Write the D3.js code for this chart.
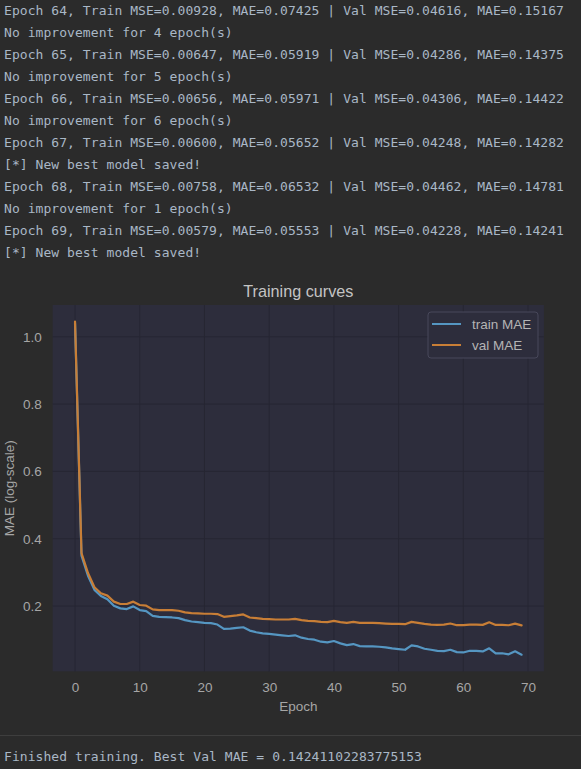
<!DOCTYPE html>
<html>
<head>
<meta charset="utf-8">
<script src="https://cdn.jsdelivr.net/npm/d3@7"></script>
<style>
  html, body { margin: 0; padding: 0; background: #2b2b2b; }
  svg { display: block; }
</style>
</head>
<body>
<svg id="root" width="581" height="769"></svg>
<script>
// ---- console log lines ----
const logLines = [
  "Epoch 64, Train MSE=0.00928, MAE=0.07425 | Val MSE=0.04616, MAE=0.15167",
  "No improvement for 4 epoch(s)",
  "Epoch 65, Train MSE=0.00647, MAE=0.05919 | Val MSE=0.04286, MAE=0.14375",
  "No improvement for 5 epoch(s)",
  "Epoch 66, Train MSE=0.00656, MAE=0.05971 | Val MSE=0.04306, MAE=0.14422",
  "No improvement for 6 epoch(s)",
  "Epoch 67, Train MSE=0.00600, MAE=0.05652 | Val MSE=0.04248, MAE=0.14282",
  "[*] New best model saved!",
  "Epoch 68, Train MSE=0.00758, MAE=0.06532 | Val MSE=0.04462, MAE=0.14781",
  "No improvement for 1 epoch(s)",
  "Epoch 69, Train MSE=0.00579, MAE=0.05553 | Val MSE=0.04228, MAE=0.14241",
  "[*] New best model saved!"
];
const finalLine = "Finished training. Best Val MAE = 0.14241102283775153";

// ---- chart data ----
const epochs = d3.range(0, 70);
const trainMAE = [
  1.040, 0.350, 0.290, 0.248, 0.230, 0.220, 0.201, 0.193, 0.191, 0.199,
  0.188, 0.185, 0.171, 0.168, 0.167, 0.166, 0.164, 0.158, 0.154, 0.152,
  0.150, 0.149, 0.145, 0.132, 0.133, 0.135, 0.137, 0.127, 0.122, 0.119,
  0.117, 0.115, 0.113, 0.111, 0.113, 0.106, 0.102, 0.100, 0.094, 0.092,
  0.096, 0.089, 0.084, 0.087, 0.081, 0.080, 0.080, 0.079, 0.077, 0.074,
  0.072, 0.070, 0.083, 0.080, 0.073, 0.070, 0.067, 0.066, 0.070, 0.063,
  0.062, 0.067, 0.067, 0.065, 0.07425, 0.05919, 0.05971, 0.05652, 0.06532, 0.05553
];
const valMAE = [
  1.045, 0.357, 0.298, 0.256, 0.238, 0.231, 0.213, 0.206, 0.206, 0.213,
  0.203, 0.201, 0.190, 0.188, 0.188, 0.188, 0.186, 0.181, 0.179, 0.178,
  0.177, 0.177, 0.176, 0.168, 0.170, 0.172, 0.175, 0.166, 0.164, 0.162,
  0.161, 0.160, 0.160, 0.160, 0.162, 0.158, 0.156, 0.155, 0.153, 0.152,
  0.156, 0.152, 0.150, 0.153, 0.150, 0.150, 0.150, 0.149, 0.148, 0.147,
  0.147, 0.146, 0.153, 0.150, 0.147, 0.145, 0.144, 0.145, 0.148, 0.143,
  0.143, 0.145, 0.145, 0.144, 0.15167, 0.14375, 0.14422, 0.14282, 0.14781, 0.14241
];
const seriesNames = ["train MAE", "val MAE"];
const seriesColors = ["#5596c2", "#c87e36"];
const xTicks = [0, 10, 20, 30, 40, 50, 60, 70];
const yTicks = [0.2, 0.4, 0.6, 0.8, 1.0];
const chartTitle = "Training curves";
const xLabel = "Epoch";
const yLabel = "MAE (log-scale)";

const svg = d3.select("#root");
svg.append("rect").attr("width", 581).attr("height", 769).attr("fill", "#2b2b2b");

// console text
const mono = "'DejaVu Sans Mono', 'Liberation Mono', monospace";
const textColor = "#a9b7c6";
svg.append("g").selectAll("text").data(logLines).join("text")
  .attr("x", 4).attr("y", (d, i) => 15 + i * 22)
  .attr("font-family", mono).attr("font-size", 13)
  .attr("letter-spacing", "0.06px")
  .attr("fill", textColor)
  .attr("xml:space", "preserve")
  .style("white-space", "pre")
  .text(d => d);

// separator + final line
svg.append("line").attr("x1", 0).attr("x2", 581).attr("y1", 735.5).attr("y2", 735.5)
  .attr("stroke", "#3e3e3e").attr("stroke-width", 1);
svg.append("text").attr("x", 4).attr("y", 761)
  .attr("font-family", mono).attr("font-size", 13).attr("letter-spacing", "0.06px")
  .attr("fill", textColor).text(finalLine);

// ---- chart ----
const sans = "'Liberation Sans', Arial, sans-serif";
const plot = { left: 52.7, right: 543.9, top: 305, bottom: 671.3 };
const allVals = trainMAE.concat(valMAE);
const yMin = d3.min(allVals), yMax = d3.max(allVals);
const yPad = (yMax - yMin) * 0.05;
const xPad = (d3.max(epochs) - d3.min(epochs)) * 0.05;

const x = d3.scaleLinear().domain([d3.min(epochs) - xPad, d3.max(epochs) + xPad])
  .range([plot.left, plot.right]);
const y = d3.scaleLinear().domain([yMin - yPad, yMax + yPad])
  .range([plot.bottom, plot.top]);

const chart = svg.append("g");
chart.append("rect")
  .attr("x", plot.left).attr("y", plot.top)
  .attr("width", plot.right - plot.left).attr("height", plot.bottom - plot.top)
  .attr("fill", "#2d2d3c");

// grid
chart.append("g").selectAll("line").data(xTicks).join("line")
  .attr("x1", d => x(d)).attr("x2", d => x(d))
  .attr("y1", plot.top).attr("y2", plot.bottom)
  .attr("stroke", "#262633").attr("stroke-width", 1);
chart.append("g").selectAll("line").data(yTicks).join("line")
  .attr("x1", plot.left).attr("x2", plot.right)
  .attr("y1", d => y(d)).attr("y2", d => y(d))
  .attr("stroke", "#262633").attr("stroke-width", 1);

// axes
const xAxis = d3.axisBottom(x).tickValues(xTicks).tickFormat(d3.format("d")).tickSize(0).tickPadding(11);
const yAxis = d3.axisLeft(y).tickValues(yTicks).tickFormat(d3.format(".1f")).tickSize(0).tickPadding(11);
const gx = chart.append("g").attr("transform", `translate(0,${plot.bottom})`).call(xAxis);
const gy = chart.append("g").attr("transform", `translate(${plot.left},0)`).call(yAxis);
[gx, gy].forEach(g => {
  g.select(".domain").remove();
  g.selectAll("text").attr("font-family", sans).attr("font-size", 13.5).attr("fill", "#a6a6a6");
});

// lines
const series = [trainMAE, valMAE];
const lineGen = d3.line().x((d, i) => x(epochs[i])).y(d => y(d));
chart.append("g").selectAll("path").data(series).join("path")
  .attr("d", d => lineGen(d))
  .attr("fill", "none")
  .attr("stroke", (d, i) => seriesColors[i])
  .attr("stroke-width", 2.2)
  .attr("stroke-linejoin", "round")
  .attr("stroke-linecap", "round");

// title & labels
chart.append("text").attr("x", (plot.left + plot.right) / 2).attr("y", 297)
  .attr("text-anchor", "middle").attr("font-family", sans).attr("font-size", 16.2)
  .attr("fill", "#c4c4c4").text(chartTitle);
chart.append("text").attr("x", (plot.left + plot.right) / 2).attr("y", 711)
  .attr("text-anchor", "middle").attr("font-family", sans).attr("font-size", 13.5)
  .attr("fill", "#a6a6a6").text(xLabel);
chart.append("text")
  .attr("transform", `translate(14,${(plot.top + plot.bottom) / 2}) rotate(-90)`)
  .attr("text-anchor", "middle").attr("font-family", sans).attr("font-size", 13.5)
  .attr("fill", "#a6a6a6").text(yLabel);

// legend
const lg = chart.append("g").attr("transform", "translate(428,312)");
lg.append("rect").attr("width", 110).attr("height", 46).attr("rx", 3)
  .attr("fill", "#2d2d3c").attr("stroke", "#48485a").attr("stroke-width", 1);
seriesNames.forEach((name, i) => {
  const yy = 12 + i * 21;
  lg.append("line").attr("x1", 4).attr("x2", 33).attr("y1", yy).attr("y2", yy)
    .attr("stroke", seriesColors[i]).attr("stroke-width", 2);
  lg.append("text").attr("x", 44).attr("y", yy + 5)
    .attr("font-family", sans).attr("font-size", 13.5).attr("fill", "#b4b4b4").text(name);
});
</script>
</body>
</html>
